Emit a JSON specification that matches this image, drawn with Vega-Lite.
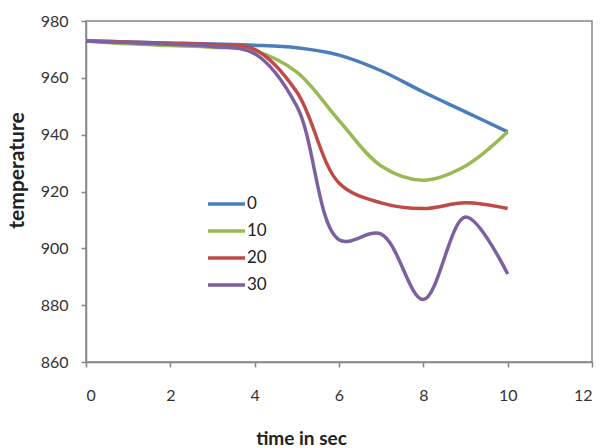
{
  "$schema": "https://vega.github.io/schema/vega-lite/v6.json",
  "width": 506,
  "height": 341,
  "autosize": {"type": "none"},
  "padding": {"left": 86, "top": 21, "right": 11, "bottom": 86},
  "background": "white",
  "config": {
    "font": "Lato",
    "view": {"stroke": "#868686", "strokeWidth": 1.5}
  },
  "data": {
    "values": [
      {"t": 0, "s": "0", "T": 973}, {"t": 1, "s": "0", "T": 972.6}, {"t": 2, "s": "0", "T": 972.2}, {"t": 3, "s": "0", "T": 971.9}, {"t": 4, "s": "0", "T": 971.5}, {"t": 5, "s": "0", "T": 970.6}, {"t": 6, "s": "0", "T": 968}, {"t": 7, "s": "0", "T": 962.5}, {"t": 8, "s": "0", "T": 955}, {"t": 9, "s": "0", "T": 948}, {"t": 10, "s": "0", "T": 941},
      {"t": 0, "s": "10", "T": 973}, {"t": 1, "s": "10", "T": 972}, {"t": 2, "s": "10", "T": 971.4}, {"t": 3, "s": "10", "T": 970.8}, {"t": 4, "s": "10", "T": 969.5}, {"t": 5, "s": "10", "T": 962}, {"t": 6, "s": "10", "T": 945}, {"t": 7, "s": "10", "T": 929}, {"t": 8, "s": "10", "T": 924}, {"t": 9, "s": "10", "T": 929}, {"t": 10, "s": "10", "T": 941},
      {"t": 0, "s": "20", "T": 973}, {"t": 1, "s": "20", "T": 972.6}, {"t": 2, "s": "20", "T": 972.2}, {"t": 3, "s": "20", "T": 971.7}, {"t": 4, "s": "20", "T": 970}, {"t": 5, "s": "20", "T": 955}, {"t": 6, "s": "20", "T": 923}, {"t": 7, "s": "20", "T": 916}, {"t": 8, "s": "20", "T": 914}, {"t": 9, "s": "20", "T": 916}, {"t": 10, "s": "20", "T": 914},
      {"t": 0, "s": "30", "T": 973}, {"t": 1, "s": "30", "T": 972.4}, {"t": 2, "s": "30", "T": 971.8}, {"t": 3, "s": "30", "T": 971}, {"t": 4, "s": "30", "T": 968.5}, {"t": 5, "s": "30", "T": 950}, {"t": 6, "s": "30", "T": 903}, {"t": 7, "s": "30", "T": 905}, {"t": 8, "s": "30", "T": 882}, {"t": 9, "s": "30", "T": 911}, {"t": 10, "s": "30", "T": 891}
    ]
  },
  "mark": {"type": "line", "interpolate": "catmull-rom", "strokeWidth": 3.5},
  "encoding": {
    "x": {
      "field": "t", "type": "quantitative",
      "scale": {"domain": [0, 12], "nice": false, "zero": false},
      "axis": {
        "values": [0, 2, 4, 6, 8, 10, 12], "grid": false,
        "title": "time in sec",
        "titleFont": "Lato", "titleFontSize": 19, "titleFontWeight": "bold", "titleColor": "#222",
        "titleX": 215, "titleY": 76, "titleAlign": "center", "titleBaseline": "middle", "titleAnchor": null,
        "labelFontSize": 16, "labelColor": "#333", "labelPadding": 20,
        "domainColor": "#868686", "domainWidth": 1.5, "tickColor": "#868686", "tickWidth": 1.5, "tickSize": 5
      }
    },
    "y": {
      "field": "T", "type": "quantitative",
      "scale": {"domain": [860, 980], "nice": false, "zero": false},
      "axis": {
        "values": [860, 880, 900, 920, 940, 960, 980], "grid": false,
        "title": "temperature",
        "titleFont": "Lato", "titleFontSize": 21, "titleFontWeight": "bold", "titleColor": "#222",
        "titleX": -69, "titleY": 149, "titleAngle": -90, "titleAlign": "center", "titleBaseline": "middle",
        "labelFontSize": 16, "labelColor": "#333", "labelPadding": 13,
        "domainColor": "#868686", "domainWidth": 1.5, "tickColor": "#868686", "tickWidth": 1.5, "tickSize": 5
      }
    },
    "color": {
      "field": "s", "type": "nominal",
      "scale": {"domain": ["0", "10", "20", "30"], "range": ["#4A7EBB", "#98B954", "#BE4B48", "#7D60A0"]},
      "legend": {
        "orient": "none", "legendX": 120, "legendY": 176, "title": null,
        "symbolType": "stroke", "symbolSize": 1369, "symbolStrokeWidth": 3.5,
        "labelFontSize": 17, "labelColor": "#222", "labelOffset": 0,
        "clipHeight": 14, "rowPadding": 10
      }
    }
  }
}
